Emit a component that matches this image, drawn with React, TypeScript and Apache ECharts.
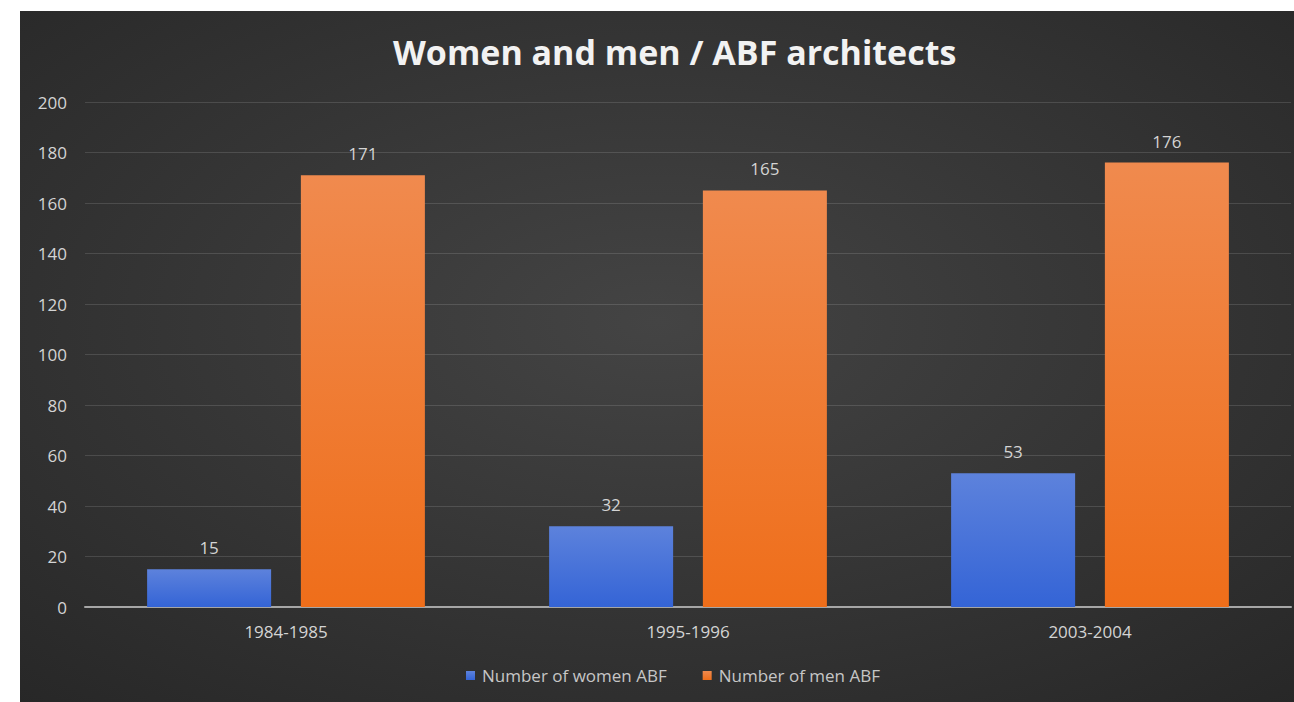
import React, { useEffect, useRef } from "react";
import * as echarts from "echarts";

const categories = ["1984-1985", "1995-1996", "2003-2004"];
const womenValues = [15, 32, 53];
const menValues = [171, 165, 176];
const seriesNames = ["Number of women ABF", "Number of men ABF"];
const titleText = "Women and men / ABF architects";

export default function App() {
  const ref = useRef<HTMLDivElement>(null);
  useEffect(() => {
    if (!ref.current) return;
    const chart = echarts.init(ref.current, null, { renderer: "svg" });
    const font = "'Open Sans', Lato, sans-serif";
    const labelColor = "#d4d4d4";
    chart.setOption({
      animation: false,
      backgroundColor: {
        type: "radial",
        x: 0.5,
        y: 0.45,
        r: 0.75,
        colorStops: [
          { offset: 0, color: "#444444" },
          { offset: 1, color: "#272727" },
        ],
      },
      title: {
        text: titleText,
        left: 368,
        top: 19,
        textStyle: { color: "#f2f2f2", fontSize: 34, fontWeight: "bold", fontFamily: font },
      },
      legend: {
        bottom: 13,
        left: 441,
        itemWidth: 9,
        itemHeight: 9,
        itemGap: 36,
        icon: "rect",
        textStyle: { color: "#c6c6c6", fontSize: 17, fontFamily: font, padding: [0, 0, 0, 2] },
        data: seriesNames,
      },
      grid: { left: 65, right: 3, top: 91, bottom: 95, containLabel: false },
      xAxis: {
        type: "category",
        data: categories,
        axisLine: { lineStyle: { color: "#a6a6a6", width: 2 } },
        axisTick: { show: false },
        axisLabel: { color: labelColor, fontSize: 17, margin: 16, fontFamily: font },
      },
      yAxis: {
        type: "value",
        min: 0,
        max: 200,
        interval: 20,
        axisLine: { show: false },
        axisTick: { show: false },
        axisLabel: { color: labelColor, fontSize: 17, margin: 18, fontFamily: font },
        splitLine: { lineStyle: { color: "rgba(255,255,255,0.13)", width: 1 } },
      },
      series: [
        {
          name: seriesNames[0],
          type: "bar",
          data: womenValues,
          barWidth: 124,
          barGap: "24%",
          itemStyle: {
            color: {
              type: "linear", x: 0, y: 0, x2: 0, y2: 1,
              colorStops: [
                { offset: 0, color: "#5d82dc" },
                { offset: 1, color: "#3464d6" },
              ],
            },
          },
          label: { show: true, position: "top", distance: 13, color: labelColor, fontSize: 17, fontFamily: font },
        },
        {
          name: seriesNames[1],
          type: "bar",
          data: menValues,
          barWidth: 124,
          barGap: "24%",
          itemStyle: {
            color: {
              type: "linear", x: 0, y: 0, x2: 0, y2: 1,
              colorStops: [
                { offset: 0, color: "#f08a4e" },
                { offset: 1, color: "#ef6e1a" },
              ],
            },
          },
          label: { show: true, position: "top", distance: 13, color: labelColor, fontSize: 17, fontFamily: font },
        },
      ],
    });
    return () => chart.dispose();
  }, []);
  return (
    <div style={{ position: "fixed", left: 0, top: 0, width: 1294, height: 702, background: "#ffffff" }}>
      <div ref={ref} style={{ position: "absolute", left: 20, top: 11, width: 1274, height: 691 }} />
    </div>
  );
}
